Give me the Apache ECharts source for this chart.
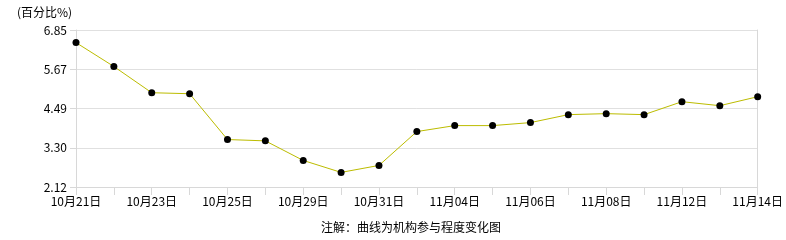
<!DOCTYPE html>
<html>
<head>
<meta charset="utf-8">
<script src="https://cdn.jsdelivr.net/npm/echarts@6/dist/echarts.min.js"></script>
<style>html,body{margin:0;padding:0;background:#fff;}#c{width:786px;height:240px;}</style>
</head>
<body>
<div id="c"></div>
<script>
const categories = ['10月21日','10月22日','10月23日','10月24日','10月25日','10月28日','10月29日','10月30日','10月31日','11月01日','11月04日','11月05日','11月06日','11月07日','11月08日','11月11日','11月12日','11月13日','11月14日'];
const values = [6.47,5.75,4.96,4.93,3.55,3.51,2.92,2.56,2.77,3.79,3.97,3.97,4.06,4.30,4.33,4.30,4.69,4.57,4.84];
const yTickLabels = ['2.12','3.30','4.49','5.67','6.85'];
const yMin = 2.12, yMax = 6.85;
const unitText = '(百分比%)';
const noteText = '注解：曲线为机构参与程度变化图';

const FONT = 'SimSun, "Noto Sans CJK SC", sans-serif';
const chart = echarts.init(document.getElementById('c'));
chart.setOption({
  animation: false,
  backgroundColor: '#fff',
  grid: {left: 76, right: 26, top: 30, bottom: 53, containLabel: false},
  graphic: [
    {type: 'text', left: 17, top: 6, style: {text: unitText, fontSize: 12, fontFamily: FONT, fill: '#000'}},
    {type: 'text', x: 411, y: 227, style: {text: noteText, fontSize: 12, fontFamily: FONT, fill: '#000', align: 'center', verticalAlign: 'middle'}}
  ],
  xAxis: {
    type: 'category',
    data: categories,
    boundaryGap: false,
    axisLine: {lineStyle: {color: '#d8d8d8', width: 1}},
    axisTick: {show: true, length: 8, interval: 0, lineStyle: {color: '#d8d8d8'}},
    axisLabel: {interval: 1, color: '#000', fontSize: 12, fontFamily: FONT, margin: 8},
    splitLine: {show: false}
  },
  yAxis: [
    {
      type: 'value', min: yMin, max: yMax, position: 'right',
      axisLine: {show: true, lineStyle: {color: '#d8d8d8'}},
      axisTick: {show: false}, axisLabel: {show: false}, splitLine: {show: false}
    },
    {
      type: 'value', min: 0, max: yTickLabels.length - 1, interval: 1, position: 'left',
      axisLine: {show: true, lineStyle: {color: '#d8d8d8'}},
      axisTick: {show: true, length: 6, lineStyle: {color: '#d8d8d8'}},
      axisLabel: {color: '#000', fontSize: 12, fontFamily: FONT, margin: 9,
        formatter: function (v) { return yTickLabels[Math.round(v)]; }},
      splitLine: {show: true, lineStyle: {color: '#e0e0e0', width: 1}}
    }
  ],
  series: [{
    type: 'line',
    yAxisIndex: 0,
    data: values,
    symbol: 'circle',
    symbolSize: 7,
    showAllSymbol: true,
    itemStyle: {color: '#000'},
    lineStyle: {color: '#bcbc00', width: 1},
    emphasis: {disabled: true}
  }]
});
</script>
</body>
</html>
